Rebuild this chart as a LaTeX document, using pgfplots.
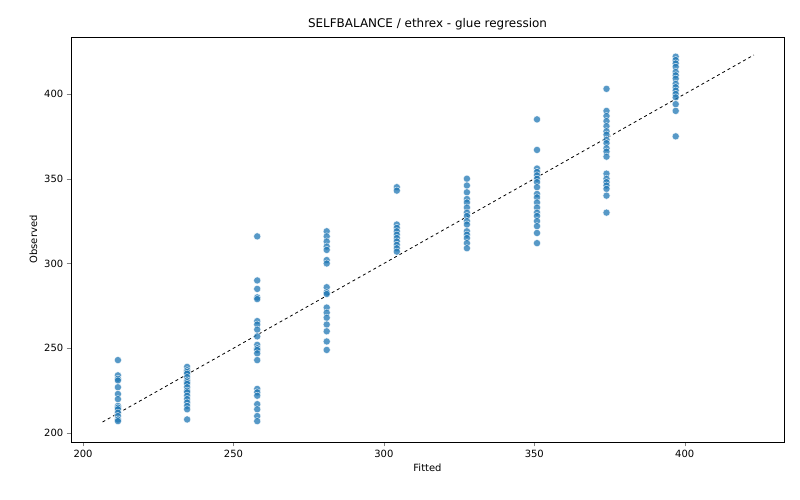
\documentclass[border=0pt]{standalone}
\usepackage{pgfplots}
\pgfplotsset{compat=1.18}
\usepackage{fontspec}
\setmainfont{DejaVu Sans}
\definecolor{sb}{HTML}{1F77B4}
\begin{document}
\begin{tikzpicture}[font=\small]
\begin{axis}[width=713bp,height=405bp,scale only axis,
  at={(0,0)},anchor=south west,
  /pgf/number format/assume math mode=true,
  xmin=196,xmax=433,ymin=194.7,ymax=433.6,
  xtick={200,250,300,350,400},ytick={200,250,300,350,400},
  tick align=outside,tick pos=left,
  title={SELFBALANCE / ethrex - glue regression},
  title style={font=\fontsize{12}{14}\selectfont,yshift=-2pt},
  xlabel={Fitted},ylabel={Observed},
  ticklabel style={font=\fontsize{10}{12}\selectfont},
  label style={font=\fontsize{10}{12}\selectfont}]
\addplot[only marks,mark=*,mark size=3.6pt,mark options={fill=sb,fill opacity=0.75,draw=white,draw opacity=0.9,line width=0.4pt}] table {
x y
211.6 243
211.6 234
211.6 232
211.6 231
211.6 227
211.6 223
211.6 220
211.6 216
211.6 215
211.6 214
211.6 212
211.6 210
211.6 208
211.6 207
234.6 239
234.6 237
234.6 236
234.6 235
234.6 233
234.6 231
234.6 230
234.6 229
234.6 227
234.6 225
234.6 224
234.6 222
234.6 220
234.6 218
234.6 216
234.6 214
234.6 208
257.9 316
257.9 290
257.9 285
257.9 280
257.9 279
257.9 266
257.9 264
257.9 261
257.9 257
257.9 252
257.9 250
257.9 249
257.9 247
257.9 243
257.9 226
257.9 224
257.9 222
257.9 217
257.9 214
257.9 210
257.9 207
281 319
281 316
281 313
281 310
281 308
281 302
281 300
281 286
281 283
281 282
281 274
281 271
281 268
281 264
281 260
281 254
281 249
304.3 345
304.3 343
304.3 323
304.3 321
304.3 319
304.3 317
304.3 315
304.3 313
304.3 311
304.3 309
304.3 307
327.6 350
327.6 346
327.6 342
327.6 338
327.6 336
327.6 333
327.6 330
327.6 328
327.6 325
327.6 323
327.6 319
327.6 317
327.6 315
327.6 312
327.6 309
350.9 385
350.9 367
350.9 356
350.9 354
350.9 352
350.9 350
350.9 348
350.9 345
350.9 341
350.9 339
350.9 336
350.9 333
350.9 330
350.9 328
350.9 325
350.9 322
350.9 318
350.9 312
374 403
374 390
374 387
374 384
374 381
374 378
374 376
374 373
374 371
374 368
374 366
374 363
374 353
374 350
374 348
374 346
374 344
374 340
374 330
397 422
397 420
397 418
397 416
397 413
397 411
397 409
397 406
397 404
397 402
397 400
397 398
397 394
397 390
397 375
};
\addplot[black,dashed,line width=0.8pt] coordinates {(206.5,206.5) (423,423)};
\end{axis}
\useasboundingbox (-71bp,-58bp) rectangle (729bp,442bp);
\end{tikzpicture}
\end{document}
